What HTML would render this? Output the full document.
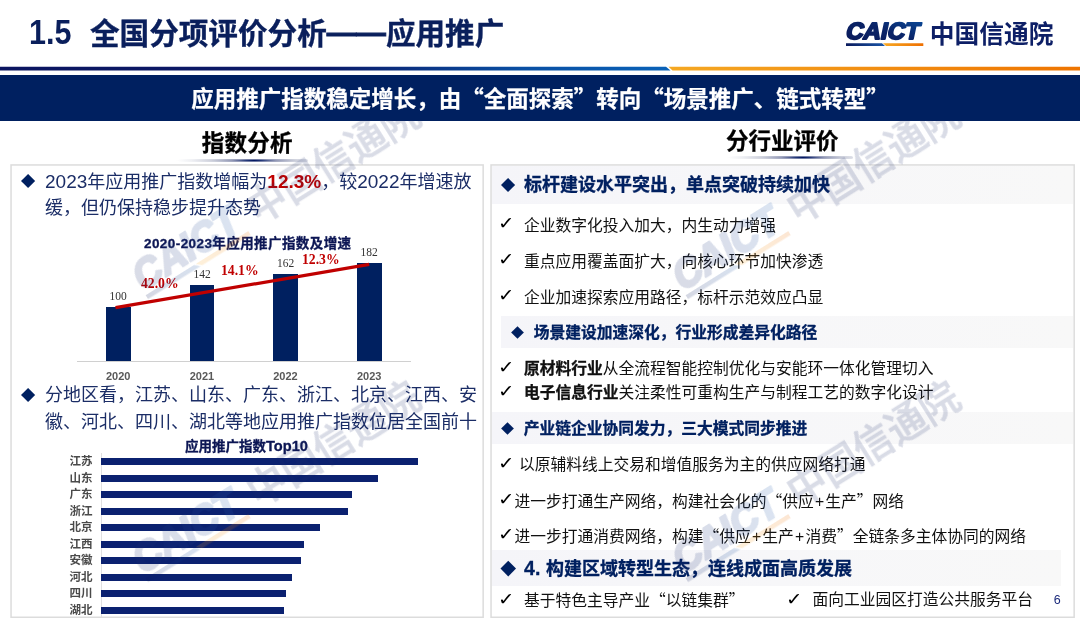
<!DOCTYPE html>
<html lang="zh-CN">
<head>
<meta charset="utf-8">
<title>1.5 全国分项评价分析——应用推广</title>
<style>
*{margin:0;padding:0;box-sizing:border-box;}
html,body{width:1080px;height:625px;background:#fff;overflow:hidden;}
body{font-family:"Liberation Sans","Noto Sans CJK SC",sans-serif;color:#000;}
#slide{position:relative;width:1080px;height:625px;overflow:hidden;background:#fff;}
.abs{position:absolute;white-space:nowrap;}
.navy{color:#002060;}
.q{font-family:"Noto Sans CJK SC",sans-serif;}
.title{left:30px;top:13.5px;font-size:29.6px;font-weight:bold;line-height:40px;color:#0a1f5c;-webkit-text-stroke:.35px #0a1f5c;}
.banner{left:0;top:74.5px;width:1080px;height:46px;background:#002060;}
.bannertext{left:0;width:1080px;top:81.5px;text-align:center;color:#fff;font-weight:bold;font-size:22.5px;line-height:30px;-webkit-text-stroke:.25px #fff;}
.sechead{font-size:22.5px;font-weight:bold;line-height:30px;color:#000;-webkit-text-stroke:.3px #000;}
.box{position:absolute;border:1.5px solid #dcdcdc;background:#fff;}
.dia{position:absolute;background:#002060;transform:rotate(45deg);}
.para{position:absolute;font-size:18px;line-height:26.5px;color:#1b2d66;text-align:justify;white-space:normal;}
.red{color:#c00000;font-weight:bold;}
.p{margin:0 1.2px;}
.n{font-size:19px;line-height:20px;}
.row b{-webkit-text-stroke:.3px #111;}
.ctitle{font-weight:bold;-webkit-text-stroke:.3px #0c1654;color:#0c1654;font-size:13.5px;line-height:18px;}
.bar{position:absolute;background:#002060;}
.val{font-family:"Liberation Serif",serif;font-size:11.5px;line-height:14px;color:#333;text-align:center;width:40px;}
.pct{font-family:"Liberation Serif",serif;font-size:13.7px;line-height:16px;color:#c00000;font-weight:bold;}
.yr{font-size:11px;line-height:14px;font-weight:bold;color:#595959;text-align:center;width:40px;}
.prov{font-size:11.5px;line-height:14px;font-weight:bold;color:#4a4a4a;left:69.5px;}
.hbar{position:absolute;left:101px;height:7px;background:#0b2170;}
.hbg{position:absolute;background:linear-gradient(90deg,#f5f5f9 0%,#f7f7f9 50%,#f8f8f8 100%);}
.h1{font-size:18px;font-weight:bold;color:#002060;line-height:26px;margin-left:-1px;margin-top:.9px;-webkit-text-stroke:.3px #002060;}
.h2{font-size:15.75px;font-weight:bold;color:#002060;line-height:24px;margin-left:-1.2px;-webkit-text-stroke:.3px #002060;}
.row{font-size:15.75px;line-height:24px;color:#111;margin-left:-1px;margin-top:.6px;}
.chk{font-family:"DejaVu Sans",sans-serif;font-size:17.5px;line-height:24px;color:#000;margin-left:-1.6px;margin-top:-1.3px;transform:scaleX(1.12);transform-origin:0 50%;}
</style>
</head>
<body>
<div id="slide">

<!-- header -->
<div class="abs title"><span style="position:absolute;left:-1.5px;top:-2px;font-size:35.5px;transform:scaleX(.86);transform-origin:0 0;-webkit-text-stroke:0">1.5</span><span style="position:absolute;left:60px;top:0">全国分项评价分析<span style="position:relative;top:-1px;-webkit-text-stroke:.9px #0a1f5c">——</span>应用推广</span></div>

<!-- logo -->
<svg class="abs" style="left:840px;top:14px" width="230" height="40" viewBox="0 0 230 40">
  <defs>
    <linearGradient id="lg1" x1="0" y1="1" x2="1" y2="0"><stop offset="0" stop-color="#0a1858"/><stop offset=".55" stop-color="#0a2468"/><stop offset="1" stop-color="#0a4c9c"/></linearGradient>
    <linearGradient id="lg2" x1="0" y1="0" x2="1" y2="0"><stop offset="0" stop-color="#0a1a5c"/><stop offset="1" stop-color="#1a56a8"/></linearGradient>
    <linearGradient id="lg3" x1="0" y1="0" x2="1" y2="0"><stop offset="0" stop-color="#f7a823"/><stop offset="1" stop-color="#ee6f00"/></linearGradient>
  </defs>
  <g transform="translate(4.9,25.4) skewX(-12)">
    <text x="0" y="0" font-family="Liberation Sans, sans-serif" font-weight="bold" font-size="23.2" fill="url(#lg1)" stroke="url(#lg1)" stroke-width="1.9" stroke-linejoin="round" textLength="73.6" lengthAdjust="spacingAndGlyphs">CAICT</text>
  </g>
  <polygon points="6,29.2 42,29.2 45,32 6,32" fill="url(#lg2)"/>
  <polygon points="43,29.2 83.3,29.2 83.3,32 46,32" fill="url(#lg3)"/>
  <text x="89.8" y="29" font-family="Liberation Sans, Noto Sans CJK SC, sans-serif" font-weight="bold" font-size="25.4" fill="#0d1f66" textLength="123.6" lengthAdjust="spacingAndGlyphs">中国信通院</text>
</svg>

<!-- header rule -->
<svg class="abs" style="left:0;top:66px" width="1080" height="6" viewBox="0 0 1080 6">
  <defs>
    <linearGradient id="hl1" x1="0" y1="0" x2="1" y2="0"><stop offset="0" stop-color="#0b1560"/><stop offset=".48" stop-color="#0b1a68"/><stop offset=".78" stop-color="#0a4fa3"/><stop offset="1" stop-color="#0a62b8"/></linearGradient>
    <linearGradient id="hl2" x1="0" y1="0" x2="1" y2="0"><stop offset="0" stop-color="#f5a823"/><stop offset="1" stop-color="#ee7400"/></linearGradient>
  </defs>
  <polygon points="0,0.8 666,0.8 670.5,4.5 0,4.5" fill="url(#hl1)"/>
  <polygon points="668.5,0.8 1080,0.8 1080,4.5 672.5,4.5" fill="url(#hl2)"/>
</svg>

<div class="abs banner"></div>
<div class="abs bannertext">应用推广指数稳定增长，由<span class="q">“</span>全面探索<span class="q">”</span>转向<span class="q">“</span>场景推广、链式转型<span class="q">”</span></div>

<!-- section headings -->
<div class="abs sechead" style="left:201.7px;top:129.4px;letter-spacing:.25px">指数分析</div>
<div class="abs" style="left:174px;top:158.6px;width:134px;height:3.6px;border-radius:2px;background:radial-gradient(78px 4.5px at 80px 50%,#00155f 0%,rgba(0,24,100,.85) 10%,rgba(40,52,110,.5) 28%,rgba(80,90,130,.28) 55%,rgba(90,100,140,.1) 80%,rgba(90,100,140,0) 100%)"></div>
<div class="abs sechead" style="left:726px;top:127px">分行业评价</div>
<div class="abs" style="left:719px;top:156px;width:134px;height:3.4px;border-radius:2px;background:radial-gradient(76px 4.5px at 84px 50%,#00155f 0%,rgba(0,24,100,.85) 10%,rgba(40,52,110,.5) 28%,rgba(80,90,130,.28) 55%,rgba(90,100,140,.1) 80%,rgba(90,100,140,0) 100%)"></div>

<!-- LEFT BOX -->
<svg class="abs" style="left:0;top:160px" width="1080" height="465" viewBox="0 160 1080 465"><rect x="11.05" y="164.95" width="472.1" height="452.3" fill="#fff" stroke="#dcdcdc" stroke-width="1.5"/><rect x="491.05" y="164.95" width="583.1" height="452.3" fill="#fff" stroke="#dcdcdc" stroke-width="1.5"/></svg>

<div class="dia" style="left:22.9px;top:176.2px;width:10.2px;height:10.2px"></div>
<div class="para" style="left:45px;top:168.5px;width:432px"><span style="display:block;text-align-last:justify;width:426.5px"><span class="n">2023</span>年应用推广指数增幅为<span class="red n">12.3%</span>，较<span class="n">2022</span>年增速放</span>缓，但仍保持稳步提升态势</div>

<div class="abs ctitle" style="left:144px;top:235px;letter-spacing:.42px">2020-2023年应用推广指数及增速</div>

<!-- bar chart -->
<div class="abs" style="left:76.5px;top:361px;width:334px;height:1px;background:#d0d0d0"></div>
<div class="bar" style="left:106px;top:307.4px;width:24.5px;height:53.6px"></div>
<div class="bar" style="left:189.7px;top:285px;width:24.5px;height:76px"></div>
<div class="bar" style="left:273.3px;top:274px;width:24.5px;height:87px"></div>
<div class="bar" style="left:357px;top:263px;width:24.5px;height:98px"></div>
<svg class="abs" style="left:100px;top:250px" width="300" height="70" viewBox="0 0 300 70"><line x1="15.5" y1="57.6" x2="269.2" y2="14.4" stroke="#c00000" stroke-width="3.2"/></svg>
<div class="abs val" style="left:98.2px;top:289px">100</div>
<div class="abs val" style="left:182px;top:266.5px">142</div>
<div class="abs val" style="left:265.5px;top:255.5px">162</div>
<div class="abs val" style="left:349.2px;top:245px">182</div>
<div class="abs pct" style="left:141px;top:276px">42.0%</div>
<div class="abs pct" style="left:221px;top:263px">14.1%</div>
<div class="abs pct" style="left:302px;top:251.5px">12.3%</div>
<div class="abs yr" style="left:98.2px;top:368.8px">2020</div>
<div class="abs yr" style="left:182px;top:368.8px">2021</div>
<div class="abs yr" style="left:265.5px;top:368.8px">2022</div>
<div class="abs yr" style="left:349.2px;top:368.8px">2023</div>

<div class="dia" style="left:23.4px;top:389.5px;width:10.2px;height:10.2px"></div>
<div class="para" style="left:45px;top:382px;width:432px"><span style="display:block;text-align-last:justify">分地区看，江苏、山东、广东、浙江、北京、江西、安</span><span style="display:block;text-align-last:justify">徽、河北、四川、湖北等地应用推广指数位居全国前十</span></div>

<div class="abs ctitle" style="left:185px;top:437px">应用推广指数<span style="font-size:14.6px">Top10</span></div>

<!-- top10 chart -->
<div class="abs" style="left:100.5px;top:453px;width:1px;height:164px;background:#e0e0e0"></div>
<div class="abs prov" style="top:454px">江苏</div><div class="hbar" style="top:458px;width:317px"></div>
<div class="abs prov" style="top:470.5px">山东</div><div class="hbar" style="top:474.5px;width:276.5px"></div>
<div class="abs prov" style="top:487px">广东</div><div class="hbar" style="top:491px;width:250.5px"></div>
<div class="abs prov" style="top:503.5px">浙江</div><div class="hbar" style="top:507.5px;width:247px"></div>
<div class="abs prov" style="top:520px">北京</div><div class="hbar" style="top:524px;width:219px"></div>
<div class="abs prov" style="top:536.5px">江西</div><div class="hbar" style="top:540.5px;width:203px"></div>
<div class="abs prov" style="top:553px">安徽</div><div class="hbar" style="top:557px;width:199.5px"></div>
<div class="abs prov" style="top:569.5px">河北</div><div class="hbar" style="top:573.5px;width:190.5px"></div>
<div class="abs prov" style="top:586px">四川</div><div class="hbar" style="top:590px;width:184.5px"></div>
<div class="abs prov" style="top:602.5px">湖北</div><div class="hbar" style="top:606.5px;width:182.5px"></div>

<!-- RIGHT BOX -->


<div class="hbg" style="left:491.8px;top:165.7px;width:581.6px;height:38.1px"></div>
<div class="dia" style="left:503px;top:179.5px;width:10.1px;height:10.1px"></div>
<div class="abs h1" style="left:525px;top:171.5px">标杆建设水平突出，单点突破持续加快</div>

<div class="abs chk" style="left:500px;top:212.5px">✓</div><div class="abs row" style="left:525px;top:213px">企业数字化投入加大，内生动力增强</div>
<div class="abs chk" style="left:500px;top:248.5px">✓</div><div class="abs row" style="left:525px;top:249px">重点应用覆盖面扩大，向核心环节加快渗透</div>
<div class="abs chk" style="left:500px;top:284.5px">✓</div><div class="abs row" style="left:525px;top:285px">企业加速探索应用路径，标杆示范效应凸显</div>

<div class="hbg" style="left:501px;top:316px;width:572px;height:32px"></div>
<div class="dia" style="left:512.5px;top:328px;width:9px;height:9px"></div>
<div class="abs h2" style="left:535px;top:320.5px">场景建设加速深化，行业形成差异化路径</div>

<div class="abs chk" style="left:500px;top:356px">✓</div><div class="abs row" style="left:525px;top:356.5px"><b>原材料行业</b>从全流程智能控制优化与安能环一体化管理切入</div>
<div class="abs chk" style="left:500px;top:380px">✓</div><div class="abs row" style="left:525px;top:380.5px"><b>电子信息行业</b>关注柔性可重构生产与制程工艺的数字化设计</div>

<div class="hbg" style="left:491.8px;top:411.5px;width:581.6px;height:32px"></div>
<div class="dia" style="left:502.5px;top:424px;width:9px;height:9px"></div>
<div class="abs h2" style="left:525px;top:416.5px">产业链企业协同发力，三大模式同步推进</div>

<div class="abs chk" style="left:500px;top:452px">✓</div><div class="abs row" style="left:520px;top:452.6px">以原辅料线上交易和增值服务为主的供应网络打通</div>
<div class="abs chk" style="left:500px;top:488px">✓</div><div class="abs row" style="left:515.5px;top:488.6px">进一步打通生产网络，构建社会化的<span class="q">“</span>供应<span class="p">+</span>生产<span class="q">”</span>网络</div>
<div class="abs chk" style="left:500px;top:523.3px">✓</div><div class="abs row" style="left:515.5px;top:523.8px">进一步打通消费网络，构建<span class="q">“</span>供应<span class="p">+</span>生产<span class="p">+</span>消费<span class="q">”</span>全链条多主体协同的网络</div>

<div class="hbg" style="left:491.8px;top:549.8px;width:569.2px;height:36.3px"></div>
<div class="dia" style="left:502.5px;top:562.5px;width:10.5px;height:10.5px"></div>
<div class="abs h1" style="left:525px;top:554.5px"><span style="font-size:19.5px;letter-spacing:.1px">4. </span>构建区域转型生态，连线成面高质发展</div>

<div class="abs chk" style="left:500px;top:588.2px">✓</div><div class="abs row" style="left:525px;top:587.1px">基于特色主导产业<span class="q">“</span>以链集群<span class="q">”</span></div>
<div class="abs chk" style="left:788px;top:588.2px">✓</div><div class="abs row" style="left:813.5px;top:587.1px">面向工业园区打造公共服务平台</div>
<div class="abs" style="left:1053.8px;top:592.5px;font-size:12.5px;line-height:14px;color:#1c2b7c">6</div>

<!-- watermarks -->
<svg class="abs" style="left:0;top:0;pointer-events:none" width="1080" height="625" viewBox="0 0 1080 625">
  <defs>
    <linearGradient id="wg1" x1="0" y1="0" x2="1" y2="0"><stop offset="0" stop-color="#0a1a5c"/><stop offset="1" stop-color="#1a56a8"/></linearGradient>
    <linearGradient id="wg2" x1="0" y1="0" x2="1" y2="0"><stop offset="0" stop-color="#f7a823"/><stop offset="1" stop-color="#ee6f00"/></linearGradient>
    <linearGradient id="wg3" x1="0" y1="0" x2="1" y2="0"><stop offset="0" stop-color="#20306e"/><stop offset=".5" stop-color="#23408a"/><stop offset="1" stop-color="#2a62b0"/></linearGradient>
    <clipPath id="wclip"><rect x="0" y="120.5" width="1080" height="505"/></clipPath>
  </defs>
  <g opacity=".17" clip-path="url(#wclip)" font-weight="bold">
    <g transform="translate(143,291) rotate(-32)">
      <g transform="skewX(-10)"><text x="-2" y="0" font-family="Liberation Sans, sans-serif" font-size="40.3" fill="url(#wg3)" stroke="url(#wg3)" stroke-width="2.6" stroke-linejoin="round" textLength="118" lengthAdjust="spacingAndGlyphs">CAICT</text></g>
      <polygon points="0,5 57,5 62,9.5 0,9.5" fill="url(#wg1)"/>
      <polygon points="59,5 121,5 121,9.5 64,9.5" fill="url(#wg2)"/>
      <text x="133" y="4.5" font-family="Liberation Sans, Noto Sans CJK SC, sans-serif" font-size="40.6" font-weight="500" fill="#20306e" stroke="#20306e" stroke-width=".7" textLength="194.5" lengthAdjust="spacingAndGlyphs">中国信通院</text>
    </g>
    <g transform="translate(683,291) rotate(-32)">
      <g transform="skewX(-10)"><text x="-2" y="0" font-family="Liberation Sans, sans-serif" font-size="40.3" fill="url(#wg3)" stroke="url(#wg3)" stroke-width="2.6" stroke-linejoin="round" textLength="118" lengthAdjust="spacingAndGlyphs">CAICT</text></g>
      <polygon points="0,5 57,5 62,9.5 0,9.5" fill="url(#wg1)"/>
      <polygon points="59,5 121,5 121,9.5 64,9.5" fill="url(#wg2)"/>
      <text x="133" y="4.5" font-family="Liberation Sans, Noto Sans CJK SC, sans-serif" font-size="40.6" font-weight="500" fill="#20306e" stroke="#20306e" stroke-width=".7" textLength="194.5" lengthAdjust="spacingAndGlyphs">中国信通院</text>
    </g>
    <g transform="translate(143,574) rotate(-32)">
      <g transform="skewX(-10)"><text x="-2" y="0" font-family="Liberation Sans, sans-serif" font-size="40.3" fill="url(#wg3)" stroke="url(#wg3)" stroke-width="2.6" stroke-linejoin="round" textLength="118" lengthAdjust="spacingAndGlyphs">CAICT</text></g>
      <polygon points="0,5 57,5 62,9.5 0,9.5" fill="url(#wg1)"/>
      <polygon points="59,5 121,5 121,9.5 64,9.5" fill="url(#wg2)"/>
      <text x="133" y="4.5" font-family="Liberation Sans, Noto Sans CJK SC, sans-serif" font-size="40.6" font-weight="500" fill="#20306e" stroke="#20306e" stroke-width=".7" textLength="194.5" lengthAdjust="spacingAndGlyphs">中国信通院</text>
    </g>
    <g transform="translate(683,574) rotate(-32)">
      <g transform="skewX(-10)"><text x="-2" y="0" font-family="Liberation Sans, sans-serif" font-size="40.3" fill="url(#wg3)" stroke="url(#wg3)" stroke-width="2.6" stroke-linejoin="round" textLength="118" lengthAdjust="spacingAndGlyphs">CAICT</text></g>
      <polygon points="0,5 57,5 62,9.5 0,9.5" fill="url(#wg1)"/>
      <polygon points="59,5 121,5 121,9.5 64,9.5" fill="url(#wg2)"/>
      <text x="133" y="4.5" font-family="Liberation Sans, Noto Sans CJK SC, sans-serif" font-size="40.6" font-weight="500" fill="#20306e" stroke="#20306e" stroke-width=".7" textLength="194.5" lengthAdjust="spacingAndGlyphs">中国信通院</text>
    </g>
  </g>
</svg>

</div>
</body>
</html>
